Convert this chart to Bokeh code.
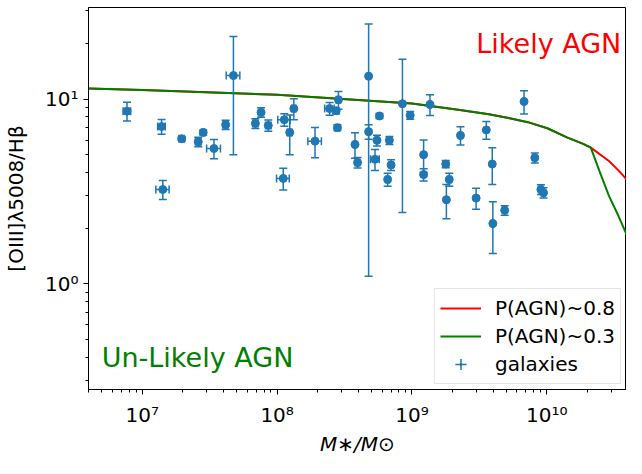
import numpy as np
from bokeh.plotting import figure
from bokeh.models import (Label, Legend, LegendItem, CustomJSTickFormatter,
                          ColumnDataSource, Range1d)
from bokeh.embed import file_html
from bokeh.resources import INLINE

# ---- galaxies (stellar mass, [OIII]/Hbeta) with symmetric errors ----
mass = [7.7e6, 1.39e7, 1.42e7, 1.96e7, 2.6e7, 2.83e7, 3.4e7, 4.15e7, 4.74e7,
        6.9e7, 7.6e7, 8.6e7, 1.11e8, 1.13e8, 1.33e8, 1.24e8, 1.91e8, 2.45e8,
        2.74e8, 2.85e8, 2.8e8, 4.77e8, 4.77e8, 5.74e8, 3.78e8, 3.95e8, 5.32e8,
        5.5e8, 6.8e8, 7.0e8, 6.6e8, 8.5e8, 9.7e8, 1.36e9, 1.22e9, 1.22e9,
        1.78e9, 1.89e9, 1.8e9, 2.29e9, 2.99e9, 3.56e9, 3.94e9, 3.98e9, 4.87e9,
        6.78e9, 8.15e9, 9.04e9, 9.45e9]
mass_err = [0.5e6, 0.9e6, 1.6e6, 0.9e6, 1.2e6, 0.8e6, 4.0e6, 1.8e6, 5.5e6,
            3.0e6, 3.0e6, 4.0e6, 1.2e7, 1.2e7, 5.0e6, 5.0e6, 2.2e7, 2.0e7,
            1.0e7, 1.0e7, 1.0e7, 1.0e7, 1.0e7, 1.5e7, 1.0e7, 1.5e7, 4.0e7,
            1.5e7, 2.0e7, 2.0e7, 2.0e7, 1.0e7, 3.0e7, 3.0e7, 2.0e7, 2.0e7,
            6.0e7, 6.0e7, 3.0e7, 5.0e7, 6.0e7, 6.0e7, 3.0e7, 1.0e8, 1.5e8,
            1.0e8, 2.0e8, 3.0e8, 3.0e8]
ratio = [8.6, 7.1, 3.24, 6.1, 5.87, 6.6, 5.4, 7.26, 13.4,
         7.38, 8.47, 7.2, 3.72, 7.73, 8.88, 6.6, 5.92, 8.88,
         8.64, 9.9, 7.0, 13.3, 6.66, 8.1, 5.68, 4.53, 4.72,
         5.98, 5.98, 4.4, 3.67, 9.43, 8.17, 9.35, 5.0, 3.9,
         4.45, 3.67, 2.85, 6.36, 2.91, 6.81, 4.45, 2.12, 2.5,
         9.7, 4.81, 3.24, 3.11]
ratio_err = [1.0, 0.65, 0.38, 0.15, 0.35, 0.2, 0.65, 0.42, 8.4,
             0.45, 0.5, 0.5, 0.5, 0.6, 1.15, 1.6, 1.1, 0.7,
             0.3, 1.1, 0.25, 12.2, 0.6, 0.25, 0.9, 0.3, 0.62,
             0.4, 0.3, 0.3, 0.3, 7.0, 0.4, 1.2, 1.0, 0.3,
             0.2, 0.3, 0.6, 0.72, 0.38, 0.75, 1.0, 0.66, 0.15,
             1.4, 0.3, 0.2, 0.2]

# ---- model curves ----
red_mass = [4.0e6, 1.0e7, 1.0e8, 1.0e9, 2.2e9, 3.72e9, 5.2e9, 7.24e9, 1.01e10,
            1.41e10, 1.86e10, 2.12e10, 2.89e10, 3.41e10, 3.94e10]
red_ratio = [11.4, 11.2, 10.55, 9.45, 8.75, 8.28, 7.89, 7.5, 6.95,
             6.2, 5.72, 5.46, 4.62, 4.1, 3.65]
green_mass = [4.0e6, 1.0e7, 1.0e8, 1.0e9, 2.2e9, 3.72e9, 5.2e9, 7.24e9, 1.01e10,
              1.41e10, 1.86e10, 2.12e10, 2.45e10, 2.89e10, 3.41e10, 3.94e10]
green_ratio = [11.4, 11.2, 10.55, 9.45, 8.75, 8.28, 7.89, 7.5, 6.95,
               6.2, 5.72, 5.46, 4.1, 2.99, 2.32, 1.82]

BLUE = "#1f77b4"
FONT = "DejaVu Sans"

m = np.array(mass); me = np.array(mass_err)
r = np.array(ratio); re = np.array(ratio_err)
src = ColumnDataSource(dict(m=m, r=r, mlo=m - me, mhi=m + me, rlo=r - re, rhi=r + re))

p = figure(width=626, height=458, x_axis_type="log", y_axis_type="log",
           x_range=Range1d(3.99e6, 3.9e10), y_range=Range1d(0.268, 31.3),
           output_backend="svg", toolbar_location=None,
           min_border_left=88, min_border_right=0, min_border_top=7,
           min_border_bottom=61)
p.background_fill_color = "white"
p.border_fill_color = "white"
p.xgrid.visible = False
p.ygrid.visible = False
p.outline_line_color = "black"
p.outline_line_width = 1
p.outline_line_alpha = 1

fmt = CustomJSTickFormatter(code="""
const sup = {"-":"\u207b","0":"\u2070","1":"\u00b9","2":"\u00b2","3":"\u00b3",
             "4":"\u2074","5":"\u2075","6":"\u2076","7":"\u2077","8":"\u2078","9":"\u2079"};
const e = Math.round(Math.log10(tick));
return "10" + String(e).split("").map(c => sup[c]).join("");
""")

for ax in (p.xaxis[0], p.yaxis[0]):
    ax.formatter = fmt
    ax.major_tick_out = 5
    ax.major_tick_in = 0
    ax.minor_tick_out = 3
    ax.minor_tick_in = 0
    ax.axis_line_color = "black"
    ax.major_tick_line_color = "black"
    ax.minor_tick_line_color = "black"
    ax.major_label_text_font = FONT
    ax.major_label_text_font_size = "20px"
    ax.major_label_text_color = "black"
    ax.axis_label_text_font = FONT
    ax.axis_label_text_font_size = "20px"
    ax.axis_label_text_color = "black"

p.xaxis[0].major_label_standoff = 8
p.yaxis[0].major_label_standoff = 5
p.xaxis[0].axis_label = "M\u2217/M\u2299"
p.xaxis[0].axis_label_text_font_style = "italic"
p.xaxis[0].axis_label_standoff = 2
p.yaxis[0].axis_label = "[OIII]\u03bb5008/H\u03b2"
p.yaxis[0].axis_label_text_font_style = "normal"
p.yaxis[0].axis_label_standoff = 14

# model lines
r_red = p.line(red_mass, red_ratio, line_color="#ff0000", line_width=2)
r_green = p.line(green_mass, green_ratio, line_color="#008000", line_width=2)

# error bars
p.segment(x0="m", y0="rlo", x1="m", y1="rhi", source=src, line_color=BLUE, line_width=1.5)
p.segment(x0="mlo", y0="r", x1="mhi", y1="r", source=src, line_color=BLUE, line_width=1.5)
p.scatter(x="m", y="rlo", source=src, marker="dash", size=8, line_color=BLUE, line_width=1.5)
p.scatter(x="m", y="rhi", source=src, marker="dash", size=8, line_color=BLUE, line_width=1.5)
p.scatter(x="mlo", y="r", source=src, marker="dash", angle=np.pi / 2, size=8,
          line_color=BLUE, line_width=1.5)
p.scatter(x="mhi", y="r", source=src, marker="dash", angle=np.pi / 2, size=8,
          line_color=BLUE, line_width=1.5)
# legend glyph parts (drawn small, hidden under the point markers in the plot)
r_cross = p.scatter(x="m", y="r", source=src, marker="cross", size=5,
                    line_color=BLUE, line_width=1.5)
r_dot = p.scatter(x="m", y="r", source=src, marker="dot", size=4,
                  fill_color=BLUE, line_color=BLUE, line_width=6)
r_pts = p.scatter(x="m", y="r", source=src, marker="circle", size=8,
                  fill_color=BLUE, line_color=BLUE)

# region labels
p.add_layout(Label(x=3e9, y=20, text="Likely AGN", text_color="#ff0000",
                   text_font=FONT, text_font_size="27px", text_baseline="alphabetic"))
p.add_layout(Label(x=5e6, y=0.4, text="Un-Likely AGN", text_color="#008000",
                   text_font=FONT, text_font_size="27px", text_baseline="alphabetic"))

legend = Legend(items=[LegendItem(label="P(AGN)~0.8", renderers=[r_red]),
                       LegendItem(label="P(AGN)~0.3", renderers=[r_green]),
                       LegendItem(label="galaxies", renderers=[r_cross, r_dot])],
                location="bottom_right")
legend.label_text_font = FONT
legend.label_text_font_size = "20px"
legend.label_text_color = "black"
legend.glyph_width = 41
legend.glyph_height = 28
legend.label_height = 28
legend.spacing = 0
legend.padding = 5
legend.margin = 5
legend.label_standoff = 14
legend.border_line_color = "#cccccc"
legend.border_line_width = 1
legend.background_fill_alpha = 0.8
p.add_layout(legend)

open("out.html", "w").write(file_html(p, INLINE))
